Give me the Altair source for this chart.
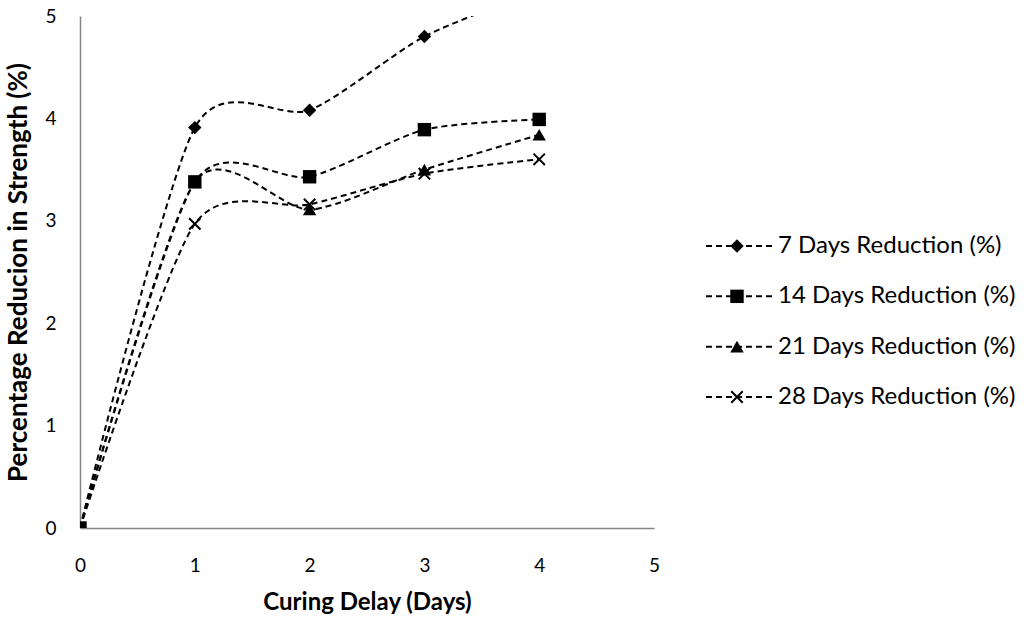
import altair as alt
import pandas as pd

# Curing delay (days) on the x axis
delay_days = [0, 1, 2, 3, 4]

# Percentage reduction in strength for each test age
series_names = [
    "7 Days Reduction (%)",
    "14 Days Reduction (%)",
    "21 Days Reduction (%)",
    "28 Days Reduction (%)",
]
reduction_7 = [0.0, 3.91, 4.08, 4.80, 5.25]
reduction_14 = [0.0, 3.38, 3.43, 3.89, 3.99]
reduction_21 = [0.0, 3.38, 3.11, 3.50, 3.84]
reduction_28 = [0.0, 2.97, 3.16, 3.46, 3.60]

# Marker shapes: diamond, square, triangle and an "x" drawn as a custom path
X_PATH = "M-1,-1L1,1M-1,1L1,-1"
marker_shapes = ["diamond", "square", "triangle-up", X_PATH]

FONT = "Lato"
AXIS_GREY = "#868686"

rows = []
for name, values in zip(series_names, [reduction_7, reduction_14, reduction_21, reduction_28]):
    for d, v in zip(delay_days, values):
        rows.append({"delay": d, "reduction": v, "series": name})
df = pd.DataFrame(rows)

x_enc = alt.X(
    "delay:Q",
    scale=alt.Scale(domain=[0, 5], nice=False),
    axis=alt.Axis(
        values=[0, 1, 2, 3, 4, 5],
        format="d",
        title="Curing Delay (Days)",
        titleFontSize=24,
        grid=False,
        ticks=False,
        labelFlush=False,
        domainColor=AXIS_GREY,
        domainWidth=1.5,
        labelPadding=28,
        titlePadding=15,
    ),
)
y_enc = alt.Y(
    "reduction:Q",
    scale=alt.Scale(domain=[0, 5], nice=False),
    axis=alt.Axis(
        values=[0, 1, 2, 3, 4, 5],
        format="d",
        title="Percentage Reducion in Strength (%)",
        titleFontSize=26,
        grid=False,
        ticks=False,
        labelFlush=False,
        domainColor=AXIS_GREY,
        domainWidth=1.5,
        labelPadding=24,
        titlePadding=13,
    ),
)
color_enc = alt.Color(
    "series:N",
    scale=alt.Scale(domain=series_names, range=["black"] * 4),
    legend=None,
)
shape_enc = alt.Shape(
    "series:N",
    scale=alt.Scale(domain=series_names, range=marker_shapes),
    legend=None,
)

base = alt.Chart(df).encode(x=x_enc, y=y_enc)

lines = base.mark_line(
    interpolate="cardinal",
    tension=0.25,
    strokeDash=[6, 4],
    strokeWidth=2,
    clip=True,
).encode(color=color_enc, detail="series:N")

filled_points = base.transform_filter(
    alt.datum.series != series_names[3]
).mark_point(filled=True, size=180, opacity=1, clip=True).encode(
    shape=shape_enc, color=color_enc
)

x_points = base.transform_filter(
    alt.datum.series == series_names[3]
).mark_point(filled=False, size=130, strokeWidth=2, opacity=1, clip=True, color="black").encode(
    shape=alt.value(X_PATH)
)

main = alt.layer(lines, filled_points, x_points).properties(width=574, height=512)

# Legend drawn as its own small view: dashed stub, marker, label
legend_df = pd.DataFrame({"series": series_names, "row": [0, 1, 2, 3]})
legend_y = alt.Y(
    "row:Q",
    scale=alt.Scale(domain=[0, 3], range=[230, 381], nice=False, zero=False),
    axis=None,
)
legend_base = alt.Chart(legend_df).encode(y=legend_y)

legend_lines = legend_base.mark_rule(strokeDash=[6, 4], strokeWidth=2, color="black").encode(
    x=alt.value(0), x2=alt.value(66)
)
legend_filled = legend_base.transform_filter(
    alt.datum.row < 3
).mark_point(filled=True, size=180, opacity=1).encode(
    x=alt.value(31), shape=shape_enc, color=color_enc
)
legend_x = legend_base.transform_filter(
    alt.datum.row == 3
).mark_point(filled=False, size=130, strokeWidth=2, opacity=1, color="black").encode(
    x=alt.value(31), shape=alt.value(X_PATH)
)
legend_text = legend_base.mark_text(
    align="left", baseline="middle", font=FONT, fontSize=24, color="black"
).encode(x=alt.value(72), text="series:N")

legend = alt.layer(legend_lines, legend_filled, legend_x, legend_text).properties(
    width=315, height=512
)

chart = (
    alt.hconcat(main, legend, spacing=45)
    .configure_view(stroke=None)
    .configure_axis(
        labelFont=FONT,
        labelFontSize=19,
        labelColor="black",
        titleFont=FONT,
        titleFontWeight="bold",
        titleColor="black",
    )
    .properties(background="white", padding={"left": 5, "top": 7, "right": 0, "bottom": 0})
)

chart.save("out.html", embed_options={"renderer": "svg", "actions": False})
